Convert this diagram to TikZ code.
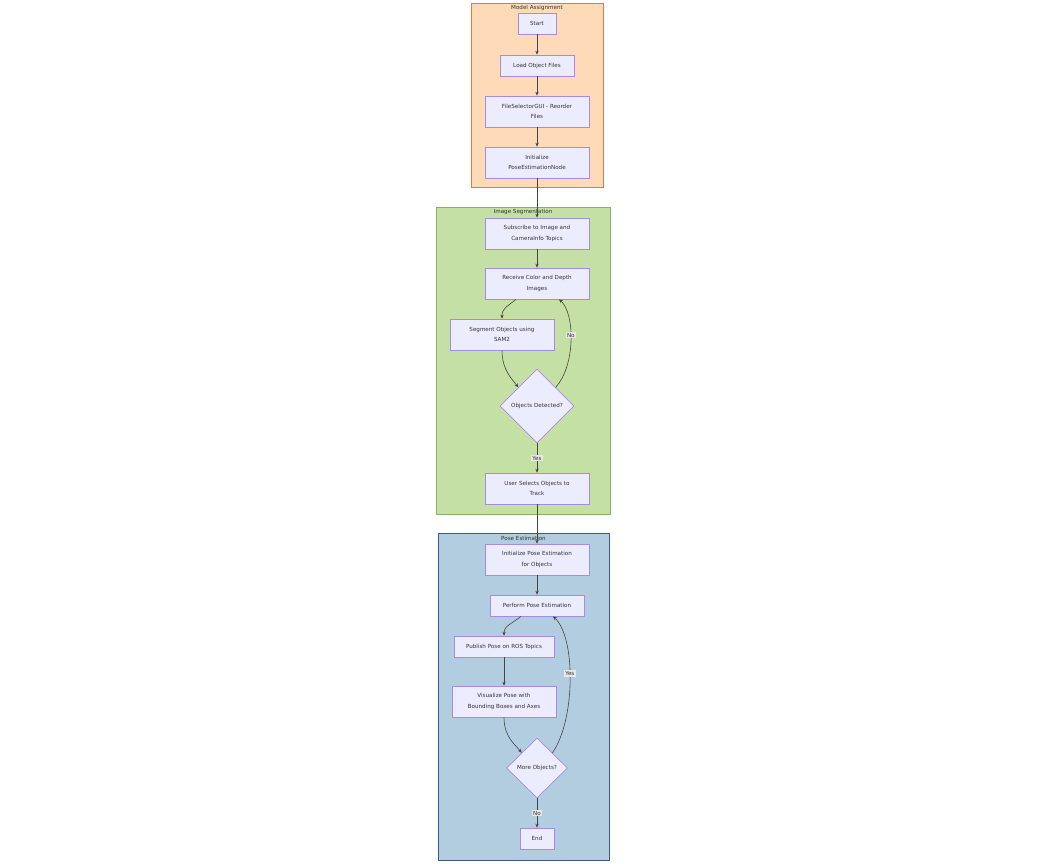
\documentclass[tikz,border=0pt]{standalone}
\usepackage{fontspec}
\setmainfont{DejaVu Sans}
\usetikzlibrary{shapes.geometric,arrows.meta}
\definecolor{txt}{HTML}{333333}
\definecolor{edge}{HTML}{444444}
\definecolor{nodefill}{HTML}{ECECFF}
\definecolor{nodeline}{HTML}{A68BE3}
\definecolor{peach}{HTML}{FFDAB9}
\definecolor{peachline}{HTML}{E07B39}
\definecolor{greenfill}{HTML}{C5E0A5}
\definecolor{greenline}{HTML}{82B366}
\definecolor{bluefill}{HTML}{B3CDE0}
\definecolor{blueline}{HTML}{3F5A85}
\definecolor{lblfill}{HTML}{E8E8E8}
\tikzset{
  x=1pt, y=-1pt,
  every node/.style={font=\fontsize{5.6}{10.5}\selectfont, text=txt},
  stepbox/.style={draw=nodeline, fill=nodefill, line width=0.7pt, rectangle,
    minimum height=21pt, inner sep=0pt, align=center},
  tallbox/.style={stepbox, minimum height=31pt},
  choice/.style={draw=nodeline, fill=nodefill, line width=0.7pt, diamond,
    inner sep=0pt, align=center},
  cluster/.style={rectangle, line width=0.8pt, inner sep=0pt, anchor=north west},
  ctitle/.style={anchor=north, inner sep=1pt},
  flow/.style={draw=edge, line width=0.6pt, -{Stealth[length=4pt,width=3.4pt]}},
  lbl/.style={fill=lblfill, inner sep=1.2pt}
}
\begin{document}
\begin{tikzpicture}
\useasboundingbox[fill=white] (0,0) rectangle (1047,863);

% subgraph frames
\node[cluster, draw=peachline, fill=peach, minimum width=132pt, minimum height=184pt] (gma) at (471,3) {};
\node[ctitle] (tma) at (537,4.5) {Model Assignment};
\node[cluster, draw=greenline, fill=greenfill, minimum width=174pt, minimum height=307pt] (gis) at (436,207) {};
\node[ctitle] (tis) at (523,208.5) {Image Segmentation};
\node[cluster, draw=blueline, fill=bluefill, minimum width=171pt, minimum height=327pt] (gpe) at (438,533) {};
\node[ctitle] (tpe) at (523.5,535) {Pose Estimation};

% model assignment
\node[stepbox, minimum width=38pt] (start) at (537,23.5) {Start};
\node[stepbox, minimum width=74pt] (load) at (537,65.5) {Load Object Files};
\node[tallbox, minimum width=104pt] (gui) at (537,111.5) {FileSelectorGUI - Reorder\\Files};
\node[tallbox, minimum width=104pt] (init) at (537,162.5) {Initialize\\PoseEstimationNode};

% image segmentation
\node[tallbox, minimum width=104pt] (sub) at (537,233.5) {Subscribe to Image and\\CameraInfo Topics};
\node[tallbox, minimum width=104pt] (recv) at (537,283.5) {Receive Color and Depth\\Images};
\node[tallbox, minimum width=104pt] (seg) at (502,334.5) {Segment Objects using\\SAM2};
\node[choice, minimum width=74pt, minimum height=74pt] (det) at (537,406) {Objects Detected?};
\node[tallbox, minimum width=104pt] (sel) at (537,488.5) {User Selects Objects to\\Track};

% pose estimation
\node[tallbox, minimum width=104pt] (ipe) at (537,559.5) {Initialize Pose Estimation\\for Objects};
\node[stepbox, minimum width=94pt] (perf) at (537,605.5) {Perform Pose Estimation};
\node[stepbox, minimum width=100pt] (pub) at (504,646.5) {Publish Pose on ROS Topics};
\node[tallbox, minimum width=104pt] (vis) at (504,701.5) {Visualize Pose with\\Bounding Boxes and Axes};
\node[choice, minimum width=61pt, minimum height=60pt] (more) at (537,768) {More Objects?};
\node[stepbox, minimum width=34pt] (end) at (537,838.5) {End};

% connectors
\draw[flow] (start) -- (load);
\draw[flow] (load) -- (gui);
\draw[flow] (gui) -- (init);
\draw[flow] (init) -- (sub);
\draw[flow] (sub) -- (recv);
\draw[flow] ([xshift=-21pt]recv.south) .. controls +(-10,8) and +(0,-10) .. (seg.north);
\draw[flow] (seg.south) .. controls +(0,20) and +(-6,-8) .. (det.north west);
\draw[flow] (det.north east) .. controls +(20,-22) and +(16,14) .. ([xshift=22pt]recv.south)
  node[lbl, pos=0.55] (lno) {No};
\draw[flow] (det.south) -- node[lbl] (lyes) {Yes} (sel.north);
\draw[flow] (sel) -- (ipe);
\draw[flow] (ipe) -- (perf);
\draw[flow] ([xshift=-16pt]perf.south) .. controls +(-10,8) and +(0,-10) .. (pub.north);
\draw[flow] (pub) -- (vis);
\draw[flow] (vis.south) .. controls +(0,20) and +(-6,-8) .. (more.north west);
\draw[flow] (more.north east) .. controls +(23,-33) and +(23,21) .. ([xshift=16pt]perf.south)
  node[lbl, pos=0.54] (lyes2) {Yes};
\draw[flow] (more.south) -- node[lbl] (lno2) {No} (end.north);
\end{tikzpicture}
\end{document}
